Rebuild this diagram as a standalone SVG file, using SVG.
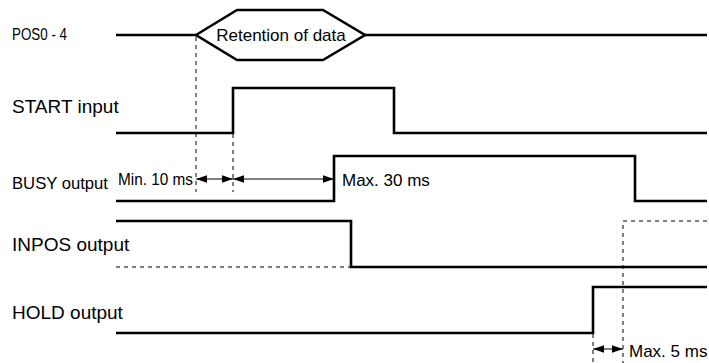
<svg xmlns="http://www.w3.org/2000/svg" width="709" height="363" viewBox="0 0 709 363">
<style>
.sig{fill:none;stroke:#000;stroke-width:2.6;stroke-linejoin:miter;stroke-linecap:butt}
.dash{fill:none;stroke:#000;stroke-width:1;stroke-dasharray:4 4}
.arr{fill:none;stroke:#000;stroke-width:1;marker-start:url(#ah);marker-end:url(#ah)}
.lbl{font-family:"Liberation Sans",Arial,Helvetica,sans-serif;font-size:19px;fill:#000}
.sm{font-family:"Liberation Sans",Arial,Helvetica,sans-serif;font-size:17px;fill:#000}
</style>
<defs>
<marker id="ah" markerUnits="userSpaceOnUse" markerWidth="11" markerHeight="8" refX="10" refY="3.5" orient="auto-start-reverse" viewBox="0 0 10 7">
<path d="M0,0 L10,3.5 L0,7 z" fill="#000"/>
</marker>
</defs>
<rect width="709" height="363" fill="#fff"/>
<g id="pos">
<text class="sm" x="12" y="40" textLength="55" lengthAdjust="spacingAndGlyphs">POS0 - 4</text>
<path class="sig" d="M116,35 H196 M365,35 H707"/>
<path class="sig" d="M196,35 L237,10 H323 L365,35 L323,60 H237 Z"/>
<text class="sm" x="281" y="40.5" text-anchor="middle">Retention of data</text>
</g>
<g id="start">
<text class="lbl" x="12" y="113">START input</text>
<path class="sig" d="M116,133 H233 V88 H394 V133 H707"/>
</g>
<g id="busy">
<text class="sm" x="12" y="189" textLength="96" lengthAdjust="spacingAndGlyphs">BUSY output</text>
<path class="sig" d="M116,201 H334 V156 H635 V201 H707"/>
<text class="sm" x="118" y="185" textLength="75" lengthAdjust="spacingAndGlyphs">Min. 10 ms</text>
<text class="sm" x="342" y="186">Max. 30 ms</text>
</g>
<g id="inpos">
<text class="lbl" x="12" y="251">INPOS output</text>
<path class="sig" d="M116,221 H351 V267 H707"/>
</g>
<g id="hold">
<text class="lbl" x="12" y="319">HOLD output</text>
<path class="sig" d="M116,333 H593 V287 H707"/>
<text class="sm" x="629" y="357">Max. 5 ms</text>
</g>
<g id="connectors">
<path class="dash" d="M196,37 V192"/>
<path class="dash" d="M233,134 V192"/>
<path class="dash" d="M116,267 H350"/>
<path class="dash" d="M707,221 H623 V363"/>
<path class="dash" d="M593,334 V363"/>
<path class="arr" d="M196,179 H233"/>
<path class="arr" d="M233,179 H334"/>
<path class="arr" d="M593,349 H623"/>
</g>
</svg>
